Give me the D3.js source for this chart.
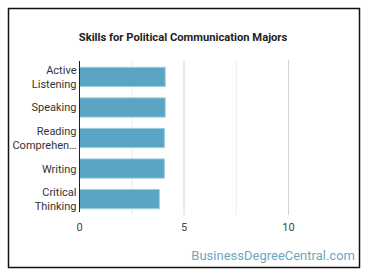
<!DOCTYPE html>
<meta charset="utf-8">
<script src="https://d3js.org/d3.v7.min.js"></script>
<style>
  body { margin: 0; background: #fff; }
  text { font-family: Roboto, "Noto Sans", sans-serif; }
</style>
<div id="chart"></div>
<script>
// skills and their scores
var skills = ["Active Listening", "Speaking", "Reading Comprehension", "Writing", "Critical Thinking"];
var labelLines = [["Active", "Listening"], ["Speaking"], ["Reading", "Comprehen\u2026"], ["Writing"], ["Critical", "Thinking"]];
var scores = [4.1, 4.1, 4.06, 4.06, 3.82];
var tickValues = [0, 5, 10];
var gridValues = [0, 2.5, 5, 7.5, 10];

var W = 370, H = 278;
var margin = {top: 61, right: 29, bottom: 63, left: 79.5};

var svg = d3.select("#chart").append("svg")
  .attr("width", W)
  .attr("height", H);

// outer frame
svg.append("rect")
  .attr("x", 8.5).attr("y", 8.5)
  .attr("width", 351).attr("height", 259)
  .attr("fill", "#fff")
  .attr("stroke", "#111")
  .attr("stroke-width", 1.5);

svg.append("text")
  .attr("x", 183).attr("y", 41)
  .attr("text-anchor", "middle")
  .attr("font-size", "11.2px")
  .attr("font-weight", "bold")
  .attr("fill", "#222")
  .text("Skills for Political Communication Majors");

var x = d3.scaleLinear()
  .domain([0, 10])
  .range([margin.left, margin.left + 209]);

var y = d3.scaleBand()
  .domain(skills)
  .range([margin.top + 0.5, H - margin.bottom - 0.5])
  .paddingInner(0.37)
  .paddingOuter(0.19);

// grid
svg.selectAll(".grid")
  .data(gridValues.slice(1))
  .enter().append("line")
  .attr("x1", function(d) { return x(d); })
  .attr("x2", function(d) { return x(d); })
  .attr("y1", margin.top - 1)
  .attr("y2", H - margin.bottom)
  .attr("stroke", function(d) { return d % 5 == 0 ? "#d4d4d4" : "#ececec"; })
  .attr("stroke-width", 1);

// bars
svg.selectAll(".bar")
  .data(skills)
  .enter().append("rect")
  .attr("x", x(0))
  .attr("y", function(d) { return y(d); })
  .attr("width", function(d, i) { return x(scores[i]) - x(0); })
  .attr("height", y.bandwidth())
  .attr("fill", "#5aa4c4")
  .attr("stroke", "#9ccde0")
  .attr("stroke-width", 1);

// y axis line
svg.append("line")
  .attr("x1", x(0)).attr("x2", x(0))
  .attr("y1", margin.top).attr("y2", H - margin.bottom - 3)
  .attr("stroke", "#222")
  .attr("stroke-width", 1);

// category labels
var lab = svg.selectAll(".lab")
  .data(skills)
  .enter().append("text")
  .attr("text-anchor", "end")
  .attr("font-size", "11px")
  .attr("fill", "#333")
  .attr("transform", function(d) {
    return "translate(" + (x(0) - 3) + "," + (y(d) + y.bandwidth() / 2) + ")";
  });

lab.each(function(d, i) {
  var lines = labelLines[i];
  var t = d3.select(this);
  lines.forEach(function(s, j) {
    t.append("tspan")
      .attr("x", 0)
      .attr("y", (j - (lines.length - 1) / 2) * 14 + 4)
      .text(s);
  });
});

// x tick labels
svg.selectAll(".tick")
  .data(tickValues)
  .enter().append("text")
  .attr("x", function(d) { return x(d); })
  .attr("y", 231)
  .attr("text-anchor", "middle")
  .attr("font-size", "11px")
  .attr("fill", "#444")
  .text(function(d) { return d; });

svg.append("text")
  .attr("x", 355).attr("y", 260)
  .attr("text-anchor", "end")
  .attr("font-size", "13px")
  .attr("fill", "#6ea6c0")
  .text("BusinessDegreeCentral.com");
</script>
